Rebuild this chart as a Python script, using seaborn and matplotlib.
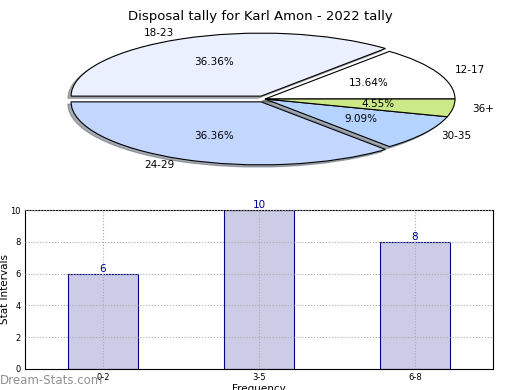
import matplotlib
matplotlib.use("Agg")
import matplotlib.pyplot as plt
import seaborn as sns
import pandas as pd

sns.set_style("white")
plt.rcParams['font.family'] = ['DejaVu Sans']
plt.rcParams['text.color'] = 'black'
plt.rcParams['axes.labelcolor'] = 'black'
plt.rcParams['xtick.color'] = 'black'
plt.rcParams['ytick.color'] = 'black'

# Pie data
pie_labels = ["12-17", "18-23", "24-29", "30-35", "36+"]
pie_values = [3, 8, 8, 2, 1]
pie_colors = ["#ffffff", "#eaf0fe", "#c2d6fe", "#b4d4ff", "#cce988"]
pie_explode = [0, 0.05, 0.05, 0, 0]

# Bar data
bar_cats = ["0-2", "3-5", "6-8"]
bar_vals = [6, 10, 8]

fig = plt.figure(figsize=(5.2, 3.9), dpi=100)

fig.text(0.5, 0.975, "Disposal tally for Karl Amon - 2022 tally", ha="center", va="top", fontsize=9.5)

# pie axes
axp = fig.add_axes([37/520, 1 - 174.6/390, 456/520, 151.2/390])
wedges, texts, autotexts = axp.pie(
    pie_values, labels=pie_labels, colors=pie_colors, explode=pie_explode,
    autopct="%.2f%%", shadow={'ox': -0.012, 'oy': -0.025, 'shade': 0.6},
    startangle=0, counterclock=True,
    wedgeprops=dict(edgecolor="black", linewidth=0.8),
    textprops=dict(fontsize=7.5, color="black"))
axp.set_aspect("auto")
axp.set_xlim(-1.2, 1.2)
axp.set_ylim(-1.2, 1.2)
axp.axis("off")

# bar axes
axb = fig.add_axes([25/520, 1 - 369/390, 468/520, 159/390])
df = pd.DataFrame({"Frequency": bar_cats, "Stat Intervals": bar_vals})
sns.barplot(data=df, x="Frequency", y="Stat Intervals", ax=axb, width=0.45,
            color="#cccce6", saturation=1,
            edgecolor="#000080", linewidth=0.8)
axb.set_xlim(-0.5, 2.5)
axb.set_ylim(0, 10)
axb.set_yticks([0, 2, 4, 6, 8, 10])
axb.tick_params(axis="both", labelsize=6, length=2, pad=1)
axb.grid(True, linestyle=":", color="#aaaaaa", linewidth=0.8)
axb.set_axisbelow(False)
for p in axb.patches:
    p.set_zorder(1)
for gl in axb.get_xgridlines() + axb.get_ygridlines():
    gl.set_zorder(2)
for i, v in enumerate(bar_vals):
    axb.text(i, v, str(v), ha="center", va="bottom", color="#000099", fontsize=7.5)
for s in axb.spines.values():
    s.set_color("black")
    s.set_linewidth(0.8)
axb.set_xlabel("Frequency", fontsize=7.5, labelpad=1)
axb.set_ylabel("Stat Intervals", fontsize=7.5, labelpad=1)
axb.yaxis.set_label_coords(-0.031, 0.5)

fig.text(0.0, 1 - 387/390, "Dream-Stats.com", color="#909090", fontsize=8.5, ha="left", va="bottom")

fig.savefig("out.png", dpi=100)
